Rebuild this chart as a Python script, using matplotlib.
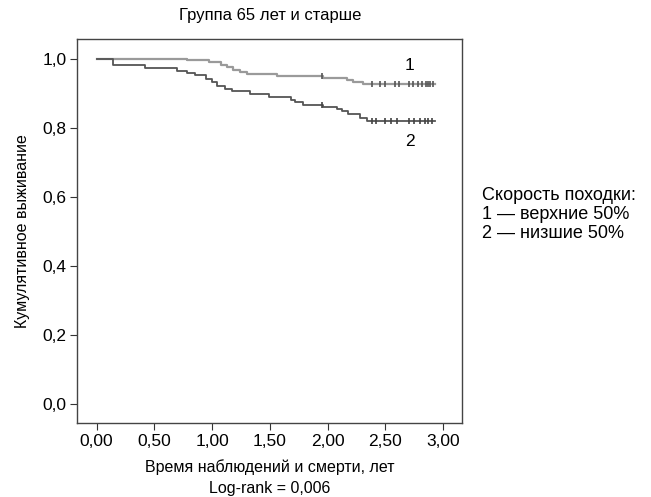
import matplotlib
matplotlib.use('Agg')
import matplotlib.pyplot as plt
from matplotlib.ticker import FuncFormatter

# Kaplan-Meier steps (time, survival)
t1 = [0.00, 0.78, 0.97, 1.08, 1.13, 1.18, 1.24, 1.30, 1.56, 1.96, 2.17, 2.22, 2.31, 2.93]
s1 = [1.000, 0.997, 0.990, 0.983, 0.976, 0.968, 0.961, 0.957, 0.952, 0.945, 0.938, 0.933, 0.928, 0.928]
t2 = [0.00, 0.14, 0.42, 0.70, 0.78, 0.85, 0.95, 1.00, 1.04, 1.11, 1.17, 1.33, 1.49,
      1.68, 1.72, 1.79, 1.96, 2.08, 2.12, 2.18, 2.28, 2.34, 2.93]
s2 = [1.000, 0.983, 0.975, 0.966, 0.960, 0.954, 0.942, 0.932, 0.922, 0.913, 0.906, 0.899, 0.890,
      0.880, 0.874, 0.866, 0.862, 0.855, 0.850, 0.841, 0.829, 0.820, 0.820]

cens1 = [1.95, 2.38, 2.45, 2.50, 2.58, 2.62, 2.70, 2.74, 2.78, 2.82, 2.85, 2.87, 2.89, 2.91]
cens2 = [1.95, 2.38, 2.42, 2.50, 2.55, 2.60, 2.70, 2.75, 2.80, 2.84, 2.87, 2.90]

xticks = [0.0, 0.5, 1.0, 1.5, 2.0, 2.5, 3.0]
yticks = [0.0, 0.2, 0.4, 0.6, 0.8, 1.0]


def surv_at(t, ts, ss):
    val = ss[0]
    for a, b in zip(ts, ss):
        if a <= t:
            val = b
    return val


plt.rcParams['font.family'] = ['Liberation Sans', 'DejaVu Sans']

fig = plt.figure(figsize=(6.51, 4.97), dpi=100, facecolor='w')
ax = fig.add_axes([0.119, 0.149, 0.591, 0.7725])

ax.step(t1, s1, where='post', color='#9a9a9a', lw=1.6)
ax.step(t2, s2, where='post', color='#555555', lw=1.3)
ax.plot(cens1, [surv_at(c, t1, s1) for c in cens1], ls='none', marker='|',
        ms=5, mew=1.2, color='#555555')
ax.plot(cens2, [surv_at(c, t2, s2) for c in cens2], ls='none', marker='|',
        ms=5, mew=1.2, color='#444444')

ax.text(2.71, 0.98, '1', fontsize=12.5, ha='center', va='center')
ax.text(2.71, 0.76, '2', fontsize=12.5, ha='center', va='center')

ax.set_xlim(-0.166, 3.165)
ax.set_ylim(-0.055, 1.058)
ax.set_xticks(xticks)
ax.set_yticks(yticks)
ax.xaxis.set_major_formatter(FuncFormatter(lambda v, p: ('%.2f' % v).replace('.', ',')))
ax.yaxis.set_major_formatter(FuncFormatter(lambda v, p: ('%.1f' % v).replace('.', ',')))
ax.tick_params(labelsize=12.5, length=5, color='#333333', direction='out', pad=3)
for sp in ax.spines.values():
    sp.set_color('#444444')
    sp.set_linewidth(1.0)

ax.set_title('Группа 65 лет и старше', fontsize=12, pad=14)
ax.set_ylabel('Кумулятивное выживание', fontsize=11.5, labelpad=9)
ax.set_xlabel('Время наблюдений и смерти, лет\nLog-rank = 0,006', fontsize=11.5,
              labelpad=7, linespacing=1.55)

fig.text(0.740, 0.624, 'Скорость походки:\n1 — верхние 50%\n2 — низшие 50%',
         fontsize=13, ha='left', va='top', linespacing=1.15)

fig.savefig('out.png', dpi=100)
